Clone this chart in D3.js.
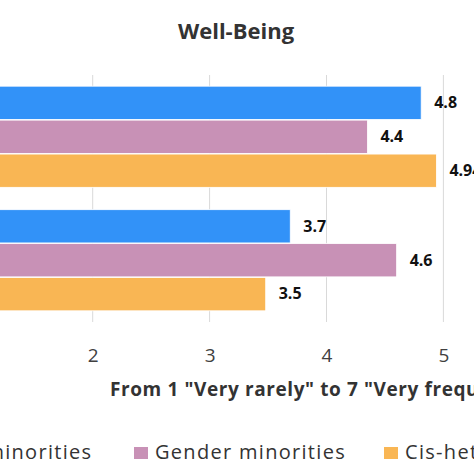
<!DOCTYPE html>
<html><head><meta charset="utf-8">
<script src="https://cdn.jsdelivr.net/npm/d3@7"></script>
<style>body{margin:0;background:#fff}svg{display:block}</style>
</head><body>
<svg id="c" width="474" height="474"></svg>
<script>
const categories = ["Group A", "Group B"];
const seriesNames = ["Sexual minorities", "Gender minorities", "Cis-heterosexual"];
const sexualMinorities = [4.81, 3.69];
const genderMinorities = [4.35, 4.60];
const cisHet = [4.94, 3.48];
const valueLabels = [["4.8", "3.7"], ["4.4", "4.6"], ["4.94", "3.5"]];
const xTicks = [2, 3, 4, 5];
const colors = ["#3292F8", "#C891B6", "#F9B654"];
const series = [sexualMinorities, genderMinorities, cisHet];

const svg = d3.select("#c");
const x = d3.scaleLinear().domain([1, 7]).range([-24.2, 677.2]);
const y0 = d3.scaleBand().domain(categories).range([75, 322]).paddingInner(0.17).paddingOuter(0.085);
const y1 = d3.scaleBand().domain(seriesNames).range([0, y0.bandwidth()]).padding(0.02);

// title
svg.append("text").attr("x", 236).attr("y", 39).attr("text-anchor", "middle")
  .attr("font-family", "Open Sans, sans-serif").attr("font-weight", "bold").attr("font-size", 22)
  .attr("fill", "#333").text("Well-Being");

// grid
svg.append("g").selectAll("line").data(xTicks).join("line")
  .attr("x1", d => x(d)).attr("x2", d => x(d)).attr("y1", 75).attr("y2", 322)
  .attr("stroke", "#d9d9d9").attr("stroke-width", 1);

// bars
const g = svg.append("g");
series.forEach((vals, si) => {
  g.append("g").selectAll("rect").data(categories).join("rect")
    .attr("x", x(1)).attr("y", (c) => y0(c) + y1(seriesNames[si]))
    .attr("width", (c, i) => x(vals[i]) - x(1)).attr("height", y1.bandwidth())
    .attr("fill", colors[si]).attr("stroke", "#fff").attr("stroke-width", 0.8);
  g.append("g").selectAll("text").data(categories).join("text")
    .attr("x", (c, i) => x(vals[i]) + 13)
    .attr("y", (c) => y0(c) + y1(seriesNames[si]) + y1.bandwidth() / 2 + 1)
    .attr("dominant-baseline", "middle")
    .attr("font-family", "Open Sans, sans-serif").attr("font-weight", "bold").attr("font-size", 16)
    .attr("fill", "#111").text((c, i) => valueLabels[si][i]);
});

// x axis tick labels
const axis = d3.axisBottom(x).tickValues(xTicks).tickFormat(d3.format("d")).tickSize(0).tickPadding(0);
const ag = svg.append("g").attr("transform", "translate(0,362)").call(axis);
ag.select(".domain").remove();
ag.selectAll("text").attr("font-family", "Open Sans, sans-serif").attr("font-size", 19)
  .attr("fill", "#404040").attr("dy", 0);

// axis title
svg.append("text").attr("x", 110).attr("y", 396)
  .attr("font-family", "Open Sans, sans-serif").attr("font-weight", "bold").attr("font-size", 19)
  .attr("letter-spacing", 0.6)
  .attr("fill", "#333").text('From 1 "Very rarely" to 7 "Very frequently"');

// legend
const legX = [-111, 134, 384];
const lg = svg.append("g");
seriesNames.forEach((n, i) => {
  lg.append("rect").attr("x", legX[i]).attr("y", 447).attr("width", 14).attr("height", 12).attr("fill", colors[i]);
  lg.append("text").attr("x", legX[i] + 21).attr("y", 459)
    .attr("font-family", "Open Sans, sans-serif").attr("font-size", 20)
    .attr("letter-spacing", 1.3)
    .attr("fill", "#333").text(n);
});
</script>
</body></html>
